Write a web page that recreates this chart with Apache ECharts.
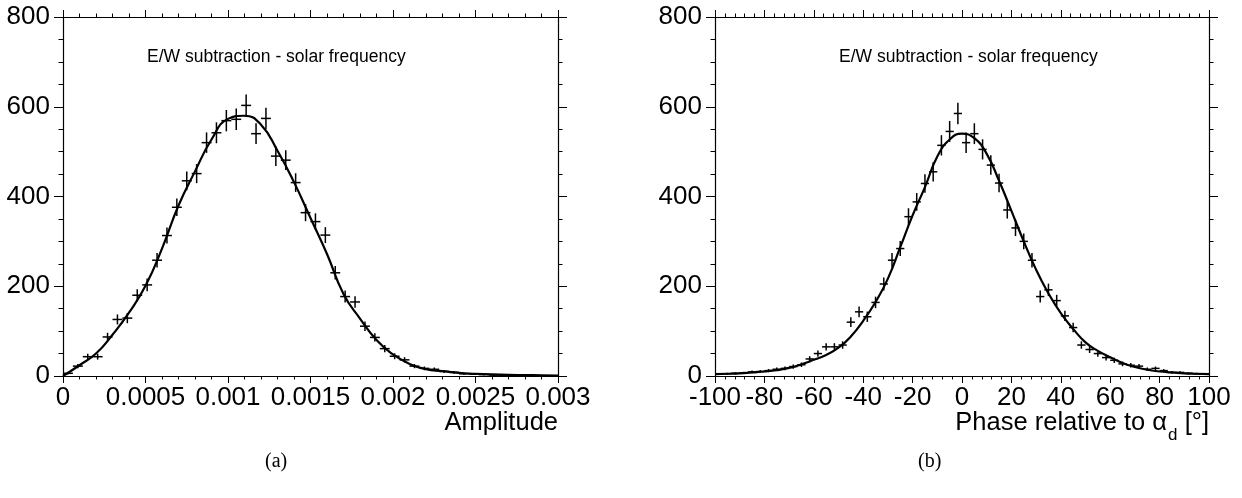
<!DOCTYPE html>
<html>
<head>
<meta charset="utf-8">
<script src="https://cdn.jsdelivr.net/npm/echarts@6/dist/echarts.min.js"></script>
<style>
  html, body { margin: 0; padding: 0; background: #fff; }
  #chart { width: 1242px; height: 498px; }
</style>
</head>
<body>
<div id="chart"></div>
<script>
// ---- Amplitude histogram (E/W subtraction, solar frequency) ----
const ampBinStart = 0;
const ampBinWidth = 0.00006;
const ampCounts = [6, 22, 43, 43, 87, 126, 129, 180, 203, 258,
                   313, 376, 435, 451, 520, 542, 569, 572, 603, 540,
                   574, 490, 481, 431, 364, 344, 314, 230, 177, 165,
                   111, 86, 61, 44, 36, 22, 17, 15, 10, 8,
                   5, 4, 3, 2, 1, 1, 1, 0, 0, 0];
// fitted curve, sampled
const ampFitX = [0, 0.0001, 0.0002, 0.0003, 0.0004, 0.0005, 0.0006, 0.0007, 0.0008, 0.0009,
                 0.0010, 0.0011, 0.0012, 0.0013, 0.0014, 0.0015, 0.0016, 0.0017, 0.0018, 0.0019,
                 0.0020, 0.0021, 0.0022, 0.0023, 0.0024, 0.0025, 0.0026, 0.0027, 0.0028, 0.0029, 0.0030];
const ampFitY = [0, 24, 50, 92, 141, 201, 284, 380, 456, 527,
                 573, 580, 560, 502, 432, 352, 272, 183, 128, 80,
                 48, 27, 15, 11, 7, 5, 3.5, 2.5, 2, 1.5, 1];

// ---- Phase histogram ----
const phaseBinStart = -100;
const phaseBinWidth = 200 / 60;
const phaseCounts = [4, 5, 6, 7, 9, 10, 12, 15, 17, 21,
                     25, 38, 50, 65, 65, 69, 120, 143, 132, 164,
                     205, 258, 284, 355, 388, 429, 455, 514, 545, 585,
                     520, 540, 505, 470, 430, 370, 330, 300, 258, 177,
                     192, 168, 134, 108, 69, 59, 50, 41, 35, 27,
                     24, 22, 15, 17, 12, 8, 8, 6, 5, 4];
const phaseFitX = [-100, -95, -90, -85, -80, -75, -70, -65, -60, -55,
                   -50, -45, -40, -35, -30, -25, -20, -15, -10, -5,
                   0, 5, 10, 15, 20, 25, 30, 35, 40, 45,
                   50, 55, 60, 65, 70, 75, 80, 85, 90, 95, 100];
const phaseFitY = [4, 5, 6, 8, 10, 13, 18, 26, 36, 47,
                   63, 88, 123, 165, 217, 287, 358, 421, 489, 527,
                   540, 530, 495, 435, 368, 300, 237, 184, 140, 105,
                   75, 56, 42, 29, 20, 14, 10, 8, 6, 5, 4];

const titleText = 'E/W subtraction - solar frequency';
const FONT = '"Liberation Sans", Arial, Helvetica, sans-serif';
const SERIF = '"Liberation Serif", "DejaVu Serif", serif';

// histogram bins -> [centre, count, error, half width]
function histPoints(start, width, counts) {
  const pts = [];
  counts.forEach((c, i) => {
    if (c > 0) pts.push([start + (i + 0.5) * width, c, Math.sqrt(c), width / 2]);
  });
  return pts;
}
function zip(xs, ys) { return xs.map((x, i) => [x, ys[i]]); }

// one cross per bin: horizontal bar = bin width, vertical bar = error
function crossItem(params, api) {
  const x = api.value(0), y = api.value(1), e = api.value(2), hw = api.value(3);
  const c = api.coord([x, y]);
  const l = api.coord([x - hw, y]);
  const r = api.coord([x + hw, y]);
  const t = api.coord([x, y + e]);
  const b = api.coord([x, y - e]);
  const st = { stroke: '#000', lineWidth: 1.5 };
  return {
    type: 'group',
    children: [
      { type: 'line', shape: { x1: l[0], y1: c[1], x2: r[0], y2: c[1] }, style: st },
      { type: 'line', shape: { x1: c[0], y1: t[1], x2: c[0], y2: b[1] }, style: st }
    ]
  };
}

const axisLineStyle = { show: true, onZero: false, lineStyle: { color: '#000', width: 1.2 } };
const tickLine = { color: '#000', width: 1 };

function xAxes(grid, min, max, interval, fmt) {
  const base = {
    type: 'value', gridIndex: grid, min, max, interval,
    axisLine: axisLineStyle,
    axisTick: { show: true, length: 7, lineStyle: tickLine },
    minorTick: { show: true, splitNumber: 5, length: 3.5, lineStyle: tickLine },
    splitLine: { show: false }
  };
  return [
    Object.assign({}, base, {
      position: 'bottom',
      axisLabel: { show: true, color: '#000', fontFamily: FONT, fontSize: 26, margin: 9, formatter: fmt }
    }),
    Object.assign({}, base, { position: 'top', axisLabel: { show: false } })
  ];
}
function yAxes(grid) {
  const base = {
    type: 'value', gridIndex: grid, min: 0, max: 800, interval: 200,
    axisLine: axisLineStyle,
    axisTick: { show: true, length: 9, lineStyle: tickLine },
    minorTick: { show: true, splitNumber: 4, length: 4.5, lineStyle: tickLine },
    splitLine: { show: false }
  };
  return [
    Object.assign({}, base, {
      position: 'left',
      axisLabel: { show: true, color: '#000', fontFamily: FONT, fontSize: 26, margin: 13 }
    }),
    Object.assign({}, base, { position: 'right', axisLabel: { show: false } })
  ];
}

const ampFmt = v => String(+v.toFixed(4));
const phaseFmt = v => String(Math.round(v));

const chart = echarts.init(document.getElementById('chart'), null, { renderer: 'canvas' });
chart.setOption({
  animation: false,
  backgroundColor: '#fff',
  grid: [
    { left: 63, top: 17, width: 495, height: 359 },
    { left: 715, top: 17, width: 494, height: 359 }
  ],
  xAxis: [...xAxes(0, 0, 0.003, 0.0005, ampFmt), ...xAxes(1, -100, 100, 20, phaseFmt)],
  yAxis: [...yAxes(0), ...yAxes(1)],
  series: [
    {
      type: 'custom', xAxisIndex: 0, yAxisIndex: 0, clip: true,
      renderItem: crossItem, data: histPoints(ampBinStart, ampBinWidth, ampCounts),
      encode: { x: 0, y: 1 }
    },
    {
      type: 'line', xAxisIndex: 0, yAxisIndex: 0, data: zip(ampFitX, ampFitY),
      smooth: 0.5, showSymbol: false, clip: true,
      lineStyle: { color: '#000', width: 2.2 }
    },
    {
      type: 'custom', xAxisIndex: 2, yAxisIndex: 2, clip: true,
      renderItem: crossItem, data: histPoints(phaseBinStart, phaseBinWidth, phaseCounts),
      encode: { x: 0, y: 1 }
    },
    {
      type: 'line', xAxisIndex: 2, yAxisIndex: 2, data: zip(phaseFitX, phaseFitY),
      smooth: 0.5, showSymbol: false, clip: true,
      lineStyle: { color: '#000', width: 2.2 }
    }
  ],
  graphic: [
    { type: 'text', left: 147, top: 48, style: { text: titleText, font: '17.5px ' + FONT, fill: '#000' } },
    { type: 'text', left: 839, top: 48, style: { text: titleText, font: '17.5px ' + FONT, fill: '#000' } },
    { type: 'text', right: 1242 - 558, top: 410, style: { text: 'Amplitude', font: '25.5px ' + FONT, fill: '#000' } },
    {
      type: 'text', right: 1242 - 1209, top: 410,
      style: {
        text: '{m|Phase relative to α}{s|d}{m| [°]}',
        fill: '#000',
        rich: {
          m: { fontFamily: FONT, fontSize: 25.5, padding: [0, 0, 8, 0], color: '#000' },
          s: { fontFamily: FONT, fontSize: 17, padding: [16, 0, 0, 1], color: '#000' }
        }
      }
    },
    { type: 'text', left: 265, top: 452, style: { text: '(a)', font: '20px ' + SERIF, fill: '#000' } },
    { type: 'text', left: 918, top: 452, style: { text: '(b)', font: '20px ' + SERIF, fill: '#000' } }
  ]
});
</script>
</body>
</html>
